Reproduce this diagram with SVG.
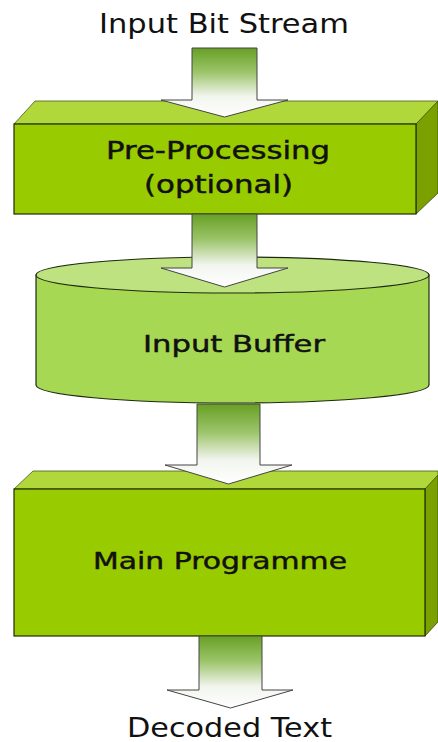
<svg xmlns="http://www.w3.org/2000/svg" width="438" height="742" viewBox="0 0 438 742">
  <style>
    .label { font-family: "DejaVu Sans", Verdana, sans-serif; fill: #111; text-anchor: start; }
    .inner { stroke: #111; stroke-width: 0.45; }
    .front { fill: #99cc00; stroke: #1e2a00; stroke-width: 1.2; }
    .top { fill: #b0d83a; stroke: #4a5a20; stroke-width: 0.8; }
    .side { fill: #7aa100; stroke: #3a4a10; stroke-width: 0.8; }
    .cyl-body { fill: #a6d853; stroke: #1e2a10; stroke-width: 1.2; }
    .cyl-top { fill: #bde27f; stroke: #1e2a10; stroke-width: 1.2; }
    .flow { fill: url(#flowGrad); stroke: #444; stroke-width: 1; stroke-linejoin: miter; }
  </style>
  <defs>
    <linearGradient id="flowGrad" x1="0" y1="0" x2="0" y2="1">
      <stop offset="0" stop-color="#67a024"/>
      <stop offset="0.35" stop-color="#9cc46a"/>
      <stop offset="0.7" stop-color="#f2f5ee"/>
      <stop offset="1" stop-color="#ffffff"/>
    </linearGradient>
  </defs>

  <rect width="438" height="742" fill="#ffffff"/>

  <!-- nodes -->
  <g id="pre-processing">
    <polygon class="top" points="14,124 35,101 438,101 438,124 416,124"/>
    <polygon class="side" points="416,124 438,101 438,193 416,214"/>
    <rect class="front" x="14" y="124" width="402" height="90"/>
  </g>

  <g id="input-buffer">
    <path class="cyl-body" d="M36,275 L36,385 A196.5,18 0 0 0 429,385 L429,275 Z"/>
    <ellipse class="cyl-top" cx="232.5" cy="275" rx="196.5" ry="18"/>
  </g>

  <g id="main-programme">
    <polygon class="top" points="14,489 33,471 438,471 438,489 425,489"/>
    <polygon class="side" points="425,489 438,475 438,622 425,636"/>
    <rect class="front" x="14" y="489" width="411" height="147"/>
  </g>

  <!-- connectors -->
  <g id="connectors">
    <polygon class="flow" points="192,48 257,48 257,100 288,100 224.5,117 161,100 192,100"/>
    <polygon class="flow" points="192,214 257,214 257,268 288,268 224.5,287 161,268 192,268"/>
    <polygon class="flow" points="197,404 260,404 260,465 292,465 228.5,484 165,465 197,465"/>
    <polygon class="flow" points="199,636 262,636 262,690 293,690 230.5,708 167,690 199,690"/>
  </g>

  <!-- labels -->
  <g id="labels">
    <text class="label" x="99" y="33" font-size="27" textLength="250" lengthAdjust="spacingAndGlyphs">Input Bit Stream</text>
    <text class="label inner" x="106" y="159" font-size="24" textLength="224" lengthAdjust="spacingAndGlyphs">Pre-Processing</text>
    <text class="label inner" x="144" y="193" font-size="24" textLength="149" lengthAdjust="spacingAndGlyphs">(optional)</text>
    <text class="label inner" x="143" y="352" font-size="23" textLength="182" lengthAdjust="spacingAndGlyphs">Input Buffer</text>
    <text class="label inner" x="93" y="569" font-size="23" textLength="254" lengthAdjust="spacingAndGlyphs">Main Programme</text>
    <text class="label" x="127" y="737" font-size="27" textLength="205" lengthAdjust="spacingAndGlyphs">Decoded Text</text>
  </g>
</svg>
